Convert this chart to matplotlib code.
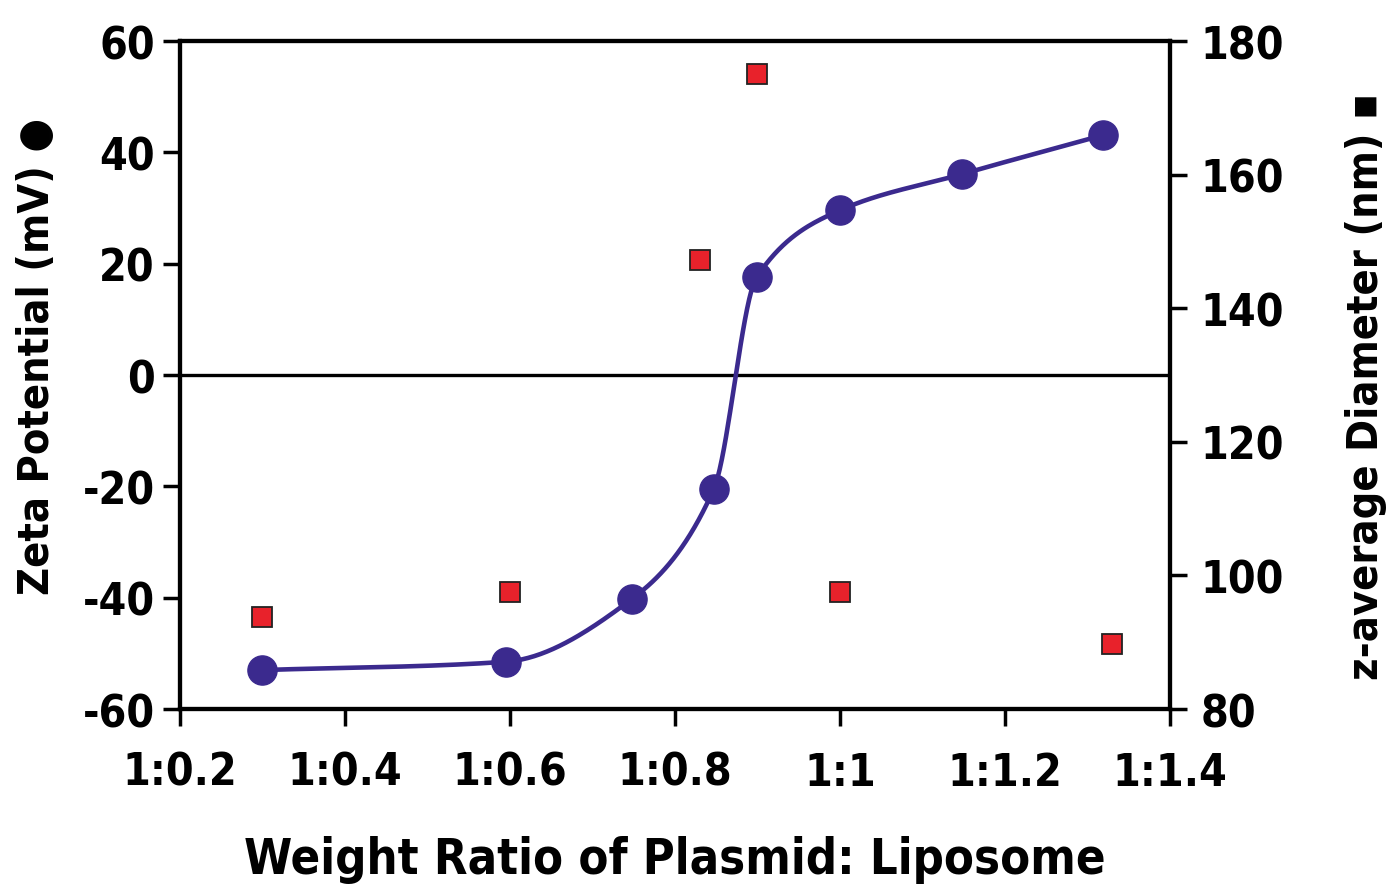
import numpy as np
import matplotlib.pyplot as plt

# zeta potential (circles, left axis)
zeta_ratio = [0.30, 0.595, 0.748, 0.847, 0.899, 1.00, 1.148, 1.319]
zeta_mv = [-53.0, -51.5, -40.2, -20.5, 17.6, 29.6, 36.1, 43.1]

# z-average diameter (squares, right axis)
size_ratio = [0.30, 0.60, 0.83, 0.90, 1.00, 1.33]
size_nm = [93.8, 97.5, 147.2, 175.1, 97.5, 89.7]

xticks = [0.2, 0.4, 0.6, 0.8, 1.0, 1.2, 1.4]
xticklabels = ['1:0.2', '1:0.4', '1:0.6', '1:0.8', '1:1', '1:1.2', '1:1.4']

LINE = '#3b2a8e'
RED = '#e8222b'


def pchip(x, y, xs):
    # monotone cubic for a smooth line through the measured points
    x = np.asarray(x, float)
    y = np.asarray(y, float)
    h = np.diff(x)
    d = np.diff(y) / h
    m = np.zeros_like(y)
    for k in range(1, len(x) - 1):
        if d[k - 1] * d[k] > 0:
            w1 = 2 * h[k] + h[k - 1]
            w2 = h[k] + 2 * h[k - 1]
            m[k] = (w1 + w2) / (w1 / d[k - 1] + w2 / d[k])
    m[0] = d[0]
    m[-1] = d[-1]
    out = np.empty_like(xs)
    for i, xv in enumerate(xs):
        k = min(max(np.searchsorted(x, xv) - 1, 0), len(x) - 2)
        t = (xv - x[k]) / h[k]
        h00 = 2 * t**3 - 3 * t**2 + 1
        h10 = t**3 - 2 * t**2 + t
        h01 = -2 * t**3 + 3 * t**2
        h11 = t**3 - t**2
        out[i] = h00 * y[k] + h10 * h[k] * m[k] + h01 * y[k + 1] + h11 * h[k] * m[k + 1]
    return out


plt.rcParams['font.family'] = ['DejaVu Sans']
plt.rcParams['font.stretch'] = 'condensed'
plt.rcParams['font.weight'] = 'bold'
plt.rcParams['axes.unicode_minus'] = False

fig = plt.figure(figsize=(13.91, 8.87), dpi=100)
ax = fig.add_axes([0.1294, 0.1995, 0.7117, 0.7531])
ax2 = ax.twinx()

ax.axhline(0, color='black', lw=2.4, zorder=1)

xs = np.linspace(zeta_ratio[0], zeta_ratio[-1], 400)
ax.plot(xs, pchip(zeta_ratio, zeta_mv, xs), color=LINE, lw=3.3, zorder=3)
ax.plot(zeta_ratio, zeta_mv, 'o', color=LINE, ms=21, zorder=4)

ax2.plot(size_ratio, size_nm, 's', color=RED, mec='#222222', mew=1.3, ms=15, zorder=5)

ax.set_xlim(0.2, 1.4)
ax.set_ylim(-60, 60)
ax2.set_ylim(80, 180)
ax.set_xticks(xticks)
ax.set_xticklabels(xticklabels)
ax.set_yticks(range(-60, 61, 20))
ax2.set_yticks(range(80, 181, 20))

for a in (ax, ax2):
    for s in a.spines.values():
        s.set_linewidth(3)
    a.tick_params(labelsize=32, width=2.5, length=12, direction='out')

ax.tick_params(axis='x', pad=18)
ax.tick_params(axis='y', pad=6)
ax2.tick_params(axis='y', pad=10)

ax.set_xlabel('Weight Ratio of Plasmid: Liposome', fontsize=35, fontweight='bold', labelpad=30)
ax.set_ylabel('Zeta Potential (mV) \u25cf', fontsize=31, fontweight='bold')
ax2.set_ylabel('z-average Diameter (nm) \u25aa', fontsize=31, fontweight='bold', rotation=90)
ax.yaxis.label.set_position((0, 0.53))
ax2.yaxis.label.set_position((1, 0.485))
ax.yaxis.labelpad = 18
ax2.yaxis.labelpad = 44

ax.set_zorder(ax2.get_zorder() + 1)
ax.patch.set_visible(False)

fig.savefig('out.png', dpi=100)
